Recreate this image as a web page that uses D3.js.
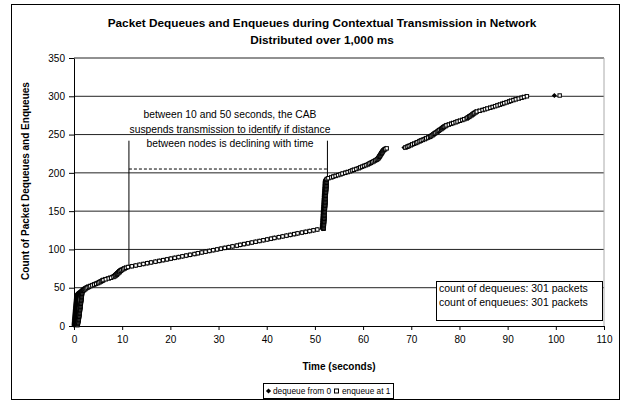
<!DOCTYPE html>
<html><head><meta charset="utf-8">
<script src="https://cdn.jsdelivr.net/npm/d3@7"></script>
<style>
body{margin:0;background:#fff;}
svg text{font-family:"Liberation Sans",Arial,sans-serif;fill:#000;}
</style></head>
<body><svg id="c" width="623" height="404"></svg>
<script>
// ---- Data: packet times (seconds); cumulative count = position in list (1..301)
const deqA=[0.00,0.01,0.02,0.03,0.05,0.06,0.07,0.08,0.10,0.11,0.12,0.14,0.15,0.16,0.18,0.19,0.20,0.22,0.23,0.25,0.26,0.28,0.29,0.30,0.32,0.33,0.35,0.36,0.38,0.39,0.40,0.42,0.44,0.45,0.47,0.48,0.50,0.52,0.55,0.58,0.62,0.70,0.85,1.05,1.30];
const enqA=[0.70,0.75,0.80,0.82,0.86,0.90,0.93,0.95,0.98,1.00,1.03,1.05,1.07,1.10,1.12,1.14,1.16,1.18,1.20,1.22,1.24,1.26,1.28,1.30,1.32,1.34,1.36,1.38,1.40,1.42,1.44,1.46,1.48,1.50,1.52,1.54,1.56,1.58,1.60,1.62,1.64,1.66,1.68,1.70,1.72];
const deqB=[1.5,1.6,1.8,2.0,2.3,2.6,3.0,3.4,3.8,4.2,4.6,4.9,5.2,5.5,5.8,6.2,6.7,7.2,7.7,8.0,8.3,8.5,8.6,8.8,9.0,9.1,9.3,9.5,9.8,10.1,10.5];
const enqB=[1.9,2.1,2.3,2.5,2.8,3.1,3.4,3.8,4.2,4.6,5.0,5.3,5.6,5.9,6.1,6.6,7.2,7.7,8.2,8.5,8.7,8.9,9.0,9.2,9.4,9.5,9.7,9.9,10.2,10.5,10.8];
const deqC=[11.2,12.0,12.8,13.6,14.4,15.2,16.0,16.9,17.7,18.5,19.3,20.1,20.9,21.7,22.5,23.3,24.1,25.0,25.7,26.5,27.3,28.1,28.9,29.7,30.5,31.3,32.1,32.9,33.8,34.5,35.3,36.1,36.9,37.7,38.5,39.3,40.1,40.9,41.6,42.5,43.3,44.1,44.9,45.7,46.4,47.3,48.1,48.9,49.7,50.5];
const enqC=[11.2,12.0,12.8,13.6,14.4,15.2,16.0,16.9,17.7,18.5,19.3,20.1,20.9,21.7,22.5,23.3,24.1,25.0,25.7,26.5,27.3,28.1,28.9,29.7,30.5,31.3,32.1,32.9,33.8,34.5,35.3,36.1,36.9,37.7,38.5,39.3,40.1,40.9,41.6,42.5,43.3,44.1,44.9,45.7,46.4,47.3,48.1,48.9,49.7,50.5];
const deqD=[51.50,51.51,51.53,51.52,51.54,51.56,51.55,51.57,51.59,51.58,51.60,51.62,51.61,51.63,51.65,51.64,51.66,51.68,51.67,51.69,51.71,51.70,51.72,51.74,51.73,51.75,51.77,51.76,51.78,51.80,51.79,51.81,51.83,51.82,51.84,51.86,51.85,51.87,51.89,51.88,51.90,51.92,51.91,51.93,51.95,51.94,51.96,51.98,51.97,51.99,52.01,52.00,52.02,52.04,52.03,52.05,52.07,52.06,52.08,52.10,52.09,52.11,52.13,52.15,52.20,52.30];
const enqD=[51.80,51.82,51.81,51.84,51.85,51.83,51.87,51.88,51.86,51.90,51.91,51.89,51.93,51.94,51.92,51.96,51.97,51.95,51.99,52.00,51.98,52.02,52.03,52.01,52.05,52.06,52.04,52.08,52.09,52.07,52.11,52.12,52.10,52.14,52.15,52.13,52.17,52.18,52.16,52.20,52.21,52.19,52.23,52.24,52.22,52.26,52.27,52.25,52.29,52.30,52.28,52.32,52.33,52.31,52.35,52.36,52.34,52.38,52.39,52.37,52.41,52.42,52.40,52.44,52.45,52.48];
const deqE=[52.6,53.1,53.6,54.1,54.6,55.1,55.6,56.1,56.6,57.1,57.5,57.9,58.4,58.8,59.2,59.6,60.0,60.4,60.8,61.1,61.4,61.7,62.0];
const enqE=[52.8,53.4,53.8,54.3,54.8,55.3,55.7,56.3,56.8,57.3,57.7,58.1,58.6,59.1,59.4,59.8,60.2,60.6,61.0,61.3,61.6,61.9,62.2];
const deqF=[62.3,62.6,62.8,63.0,63.1,63.2,63.3,63.4,63.5,63.6,63.7,63.8,63.9,64.0,64.1,64.3,64.6];
const enqF=[62.5,62.8,63.0,63.2,63.3,63.4,63.5,63.6,63.7,63.8,63.9,64.0,64.1,64.2,64.4,64.6,64.9];
const deqG=[68.5,68.9,69.2,69.6,69.9,70.3,70.7,71.0,71.4,71.7,72.1,72.5,72.8,73.2,73.6,
73.8,74.1,74.3,74.5,74.7,75.0,75.2,75.4,75.6,75.9,76.1,76.3,76.5,76.8,77.0,
77.5,78.0,78.4,78.9,79.3,79.8,80.3,80.7,81.2,
81.4,81.7,81.9,82.2,82.4,82.6,82.8,83.1,83.3,
83.9,84.5,85.0,85.5,86.1,86.6,87.1,87.6,88.1,
88.6,89.0,89.5,90.0,90.4,90.9,
91.4,92.0,92.6,93.1,93.7];
const enqG=[68.8,69.2,69.5,69.9,70.2,70.6,71.0,71.3,71.7,72.0,72.4,72.8,73.1,73.5,73.9,
74.1,74.4,74.6,74.8,75.0,75.3,75.5,75.7,75.9,76.2,76.4,76.6,76.8,77.1,77.3,
77.8,78.3,78.7,79.2,79.6,80.1,80.6,81.0,81.5,
81.7,82.0,82.2,82.5,82.7,82.9,83.1,83.4,83.6,
84.2,84.8,85.3,85.8,86.4,86.9,87.4,87.9,88.4,
88.9,89.3,89.8,90.3,90.7,91.2,
91.7,92.3,92.9,93.4,94.0];
const deqH=[99.7];
const enqH=[100.8];

const xTicks=[0,10,20,30,40,50,60,70,80,90,100,110];
const yTicks=[0,50,100,150,200,250,300,350];
const titleLines=["Packet Dequeues and Enqueues during Contextual Transmission in Network","Distributed over 1,000 ms"];
const noteLines=["between 10 and 50 seconds, the CAB","suspends transmission to identify if distance","between nodes is declining with time"];
const infoLines=["count of dequeues: 301 packets","count of enqueues: 301 packets"];
const seriesNames=["dequeue from 0","enqueue at 1"];
// annotation guide lines in data coordinates (time, count)
const guideLines=[{t1:11.4,c1:78,t2:11.4,c2:242,dash:false},{t1:52.6,c1:195,t2:52.6,c2:242,dash:false},{t1:11.4,c1:205,t2:52.6,c2:205,dash:true}];

const dequeueTimes=[].concat(deqA,deqB,deqC,deqD,deqE,deqF,deqG,deqH);
const enqueueTimes=[].concat(enqA,enqB,enqC,enqD,enqE,enqF,enqG,enqH);
const dequeue=dequeueTimes.map((t,i)=>({t,c:i+1}));
const enqueue=enqueueTimes.map((t,i)=>({t,c:i+1}));

// ---- Drawing
const svg=d3.select("#c");
const L=74,R=604,T=58,B=326;
const x=d3.scaleLinear().domain([0,110]).range([L,R]);
const y=d3.scaleLinear().domain([0,350]).range([B,T]);

svg.append("rect").attr("x",11.5).attr("y",4.5).attr("width",608).attr("height",395)
  .attr("fill","#fff").attr("stroke","#000");

// gridlines
svg.append("g").selectAll("line").data(yTicks.filter(d=>d>0)).join("line")
  .attr("x1",L).attr("x2",R).attr("y1",d=>y(d)).attr("y2",d=>y(d))
  .attr("stroke","#222").attr("stroke-width",1);
// plot right border
svg.append("line").attr("x1",R).attr("x2",R).attr("y1",T).attr("y2",B).attr("stroke","#aaa");

// axes
const yAxis=d3.axisLeft(y).tickValues(yTicks).tickSize(5).tickSizeOuter(0).tickPadding(4);
const gy=svg.append("g").attr("transform",`translate(${L},0)`).call(yAxis);
const xAxis=d3.axisBottom(x).tickValues(xTicks).tickSize(4).tickSizeOuter(0).tickPadding(6);
const gx=svg.append("g").attr("transform",`translate(0,${B})`).call(xAxis);
[gx,gy].forEach(g=>{g.selectAll("text").attr("font-size",10).attr("font-family","Liberation Sans, Arial");
  g.selectAll("line,path").attr("stroke","#000");});

// guide lines
svg.append("g").selectAll("line").data(guideLines).join("line")
  .attr("x1",d=>x(d.t1)).attr("x2",d=>x(d.t2)).attr("y1",d=>y(d.c1)).attr("y2",d=>y(d.c2))
  .attr("stroke","#000").attr("stroke-width",1)
  .attr("stroke-dasharray",d=>d.dash?"3,2":null);

// series
const diamond="M0,-2.6L2.6,0L0,2.6L-2.6,0Z";
svg.append("g").selectAll("path").data(dequeue).join("path")
  .attr("d",diamond).attr("transform",d=>`translate(${x(d.t)},${y(d.c)})`)
  .attr("fill","#000");
svg.append("g").selectAll("rect").data(enqueue).join("rect")
  .attr("x",d=>x(d.t)-1.7).attr("y",d=>y(d.c)-1.7).attr("width",3.4).attr("height",3.4)
  .attr("fill","#fff").attr("stroke","#000").attr("stroke-width",1);

// title
svg.append("g").selectAll("text").data(titleLines).join("text")
  .attr("x",322).attr("y",(d,i)=>27+i*17).attr("text-anchor","middle")
  .attr("font-size",11.8).attr("font-weight","bold").text(d=>d);

// axis titles
svg.append("text").attr("x",339).attr("y",370).attr("text-anchor","middle")
  .attr("font-size",10).attr("font-weight","bold").text("Time (seconds)");
svg.append("text").attr("transform","translate(29,181) rotate(-90)").attr("text-anchor","middle")
  .attr("font-size",10).attr("font-weight","bold").text("Count of Packet Dequeues and Enqueues");

// annotation text
svg.append("g").selectAll("text").data(noteLines).join("text")
  .attr("x",230).attr("y",(d,i)=>118+i*14.5).attr("text-anchor","middle")
  .attr("font-size",10.3).text(d=>d);

// info box
svg.append("rect").attr("x",436.5).attr("y",281.5).attr("width",166).attr("height",39)
  .attr("fill","#fff").attr("stroke","#000");
svg.append("g").selectAll("text").data(infoLines).join("text")
  .attr("x",439).attr("y",(d,i)=>292+i*14).attr("font-size",10.5).text(d=>d);

// legend
const lg=svg.append("g");
lg.append("rect").attr("x",263.5).attr("y",383.5).attr("width",130).attr("height",15)
  .attr("fill","#fff").attr("stroke","#000");
lg.append("path").attr("d",diamond).attr("transform","translate(268.5,391)").attr("fill","#000");
lg.append("text").attr("x",273).attr("y",394).attr("font-size",8.3).text(seriesNames[0]);
lg.append("rect").attr("x",334.5).attr("y",389).attr("width",4).attr("height",4)
  .attr("fill","#fff").attr("stroke","#000");
lg.append("text").attr("x",342).attr("y",394).attr("font-size",8.3).text(seriesNames[1]);
</script></body></html>
